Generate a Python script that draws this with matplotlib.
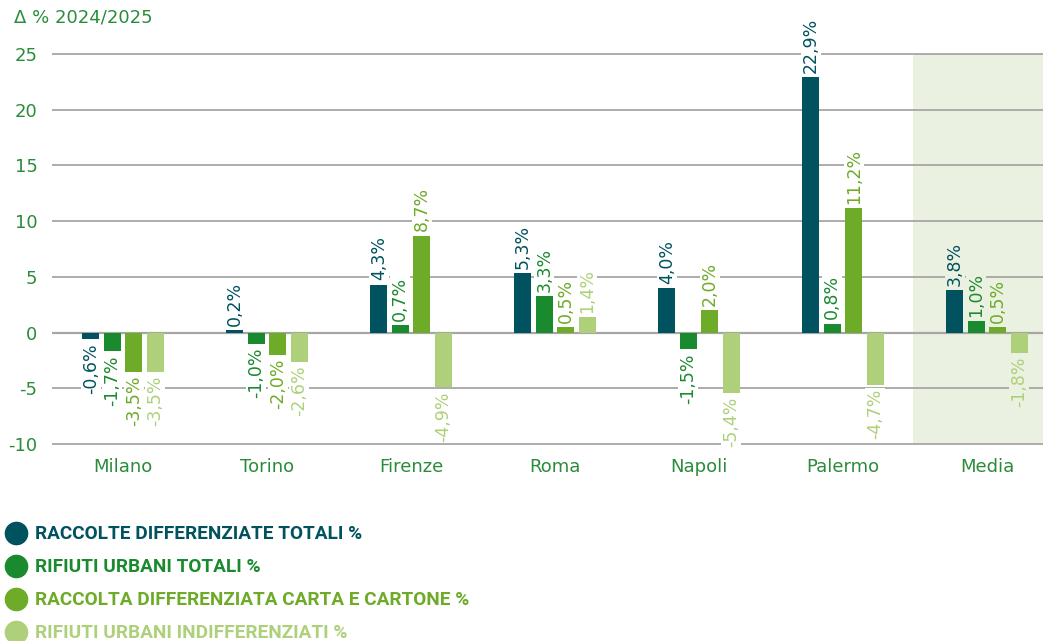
import numpy as np
import matplotlib.pyplot as plt
from matplotlib.lines import Line2D

plt.rcParams['font.family'] = ['DejaVu Sans']

cities = ['Milano', 'Torino', 'Firenze', 'Roma', 'Napoli', 'Palermo', 'Media']
series = ['RACCOLTE DIFFERENZIATE TOTALI %',
          'RIFIUTI URBANI TOTALI %',
          'RACCOLTA DIFFERENZIATA CARTA E CARTONE %',
          'RIFIUTI URBANI INDIFFERENZIATI %']
rd_totali = [-0.6, 0.2, 4.3, 5.3, 4.0, 22.9, 3.8]
ru_totali = [-1.7, -1.0, 0.7, 3.3, -1.5, 0.8, 1.0]
carta = [-3.5, -2.0, 8.7, 0.5, 2.0, 11.2, 0.5]
indiff = [-3.5, -2.6, -4.9, 1.4, -5.4, -4.7, -1.8]
values = [rd_totali, ru_totali, carta, indiff]
yticks = [25, 20, 15, 10, 5, 0, -5, -10]

colors = ['#00525e', '#1a8a2f', '#6eab28', '#aed07a']
green_txt = '#2a8c3a'

W, H = 1043, 641
fig = plt.figure(figsize=(W / 100, H / 100), dpi=100)
ax = fig.add_axes([52 / W, 1 - 447.3 / H, (W - 52) / W, (447.3 - 26.1) / H])

x = np.arange(len(cities))
pitch = 0.149
width = 0.118

# shaded "Media" column
ax.fill_between([5.486, 6.6], -10, 25, color='#ebf1e0', zorder=0, lw=0)

for t in yticks:
    ax.axhline(t, color='#a6a6a6', lw=1.6 if t == 0 else 1.3, zorder=1)

for i, (vals, c) in enumerate(zip(values, colors)):
    xs = x + (i - 1.5) * pitch
    ax.bar(xs, vals, width=width, color=c, zorder=2)
    for xx, v in zip(xs, vals):
        lab = ('%.1f%%' % v).replace('.', ',')
        bg = '#ebf1e0' if xx > 5.486 else 'white'
        up = v >= 0
        ax.annotate(lab, (xx, v), xytext=(0, 3 if up else -3),
                    textcoords='offset points', rotation=90, ha='center',
                    va='bottom' if up else 'top', color=c, fontsize=12.5,
                    zorder=3,
                    bbox=dict(boxstyle='square,pad=0.05', fc=bg, ec='none'))

ax.set_xlim(-0.493, 6.389)
ax.set_ylim(-10.3, 27.5)
ax.set_xticks(x)
ax.set_xticklabels(cities, color=green_txt, fontsize=13)
ax.set_yticks(yticks)
ax.set_yticklabels([str(t) for t in yticks], color=green_txt, fontsize=13)
ax.tick_params(length=0, axis='x', pad=8)
ax.tick_params(length=0, axis='y', pad=10.5)
for s in ax.spines.values():
    s.set_visible(False)

fig.text(14 / W, 1 - 18 / H, 'Δ % 2024/2025', color=green_txt, fontsize=13,
         va='center', ha='left')

# legend
leg = fig.add_axes([0, 0, 1, 1], facecolor='none')
leg.set_xlim(0, W)
leg.set_ylim(H, 0)
leg.axis('off')
for k, (name, c) in enumerate(zip(series, colors)):
    yy = 533 + k * 33
    leg.add_line(Line2D([16], [yy], marker='o', markersize=16, color=c, lw=0))
    leg.text(35, yy + 1, name, color=c, fontsize=13.7, fontweight='bold',
             family='Roboto', va='center', ha='left')

fig.savefig('out.png', dpi=100)
